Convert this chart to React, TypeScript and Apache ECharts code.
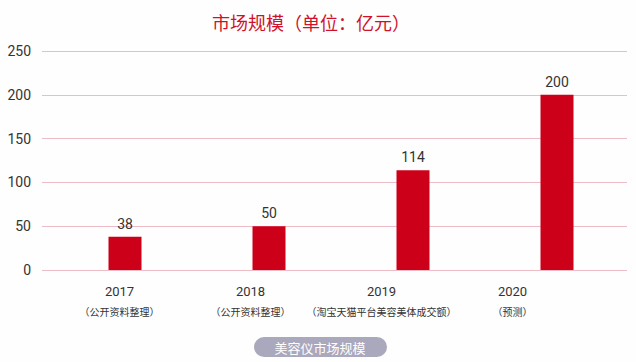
import React, { useEffect, useRef } from "react";
import * as echarts from "echarts";

const years = ["2017", "2018", "2019", "2020"];
const sources = ["（公开资料整理）", "（公开资料整理）", "（淘宝天猫平台美容美体成交额）", "（预测）"];
const marketSize = [38, 50, 114, 200];
const yTicks = { min: 0, max: 250, interval: 50 };
const titleText = "市场规模（单位：亿元）";
const footerText = "美容仪市场规模";

const CJK = '"Noto Sans CJK SC", "Noto Sans", sans-serif';
const NUM = 'Roboto, "Noto Sans", "Noto Sans CJK SC", sans-serif';

export default function App() {
  const ref = useRef<HTMLDivElement>(null);
  useEffect(() => {
    if (!ref.current) return;
    const chart = echarts.init(ref.current, null, { renderer: "svg" });
    const labelCats = years.map((y, i) => `{y|${y}}\n{s|${sources[i]}}`);
    chart.setOption({
      animation: false,
      backgroundColor: "#fefefe",
      title: {
        text: titleText,
        left: 306,
        textAlign: "center",
        top: 8,
        textStyle: { color: "#d0112b", fontSize: 18, fontWeight: "normal", fontFamily: CJK },
      },
      grid: [
        { left: 53, right: 7, top: 51, bottom: 92 },
        { left: 42, right: 9, top: 51, bottom: 92 },
        { left: 54, right: 58, top: 51, bottom: 92 },
      ],
      xAxis: [
        { gridIndex: 0, type: "category", data: years, axisLine: { show: false }, axisTick: { show: false }, axisLabel: { show: false } },
        { gridIndex: 1, type: "category", data: years, axisLine: { show: false }, axisTick: { show: false }, axisLabel: { show: false } },
        {
          gridIndex: 2,
          type: "category",
          data: labelCats,
          axisLine: { show: false },
          axisTick: { show: false },
          axisLabel: {
            margin: 12,
            interval: 0,
            rich: {
              y: { fontSize: 13, lineHeight: 18, color: "#333", fontFamily: NUM },
              s: { fontSize: 10, lineHeight: 22, color: "#333", fontFamily: CJK },
            },
          },
        },
      ],
      yAxis: [
        { gridIndex: 0, type: "value", ...yTicks, show: false, splitLine: { show: false } },
        {
          gridIndex: 1,
          type: "value",
          ...yTicks,
          axisLine: { show: false },
          axisTick: { show: false },
          axisLabel: { margin: 11, fontSize: 14, color: "#333", fontFamily: NUM },
          splitLine: { lineStyle: { color: "#ecbcc7", width: 1 } },
        },
        { gridIndex: 2, type: "value", ...yTicks, show: false, splitLine: { show: false } },
      ],
      series: [
        {
          type: "bar",
          xAxisIndex: 0,
          yAxisIndex: 0,
          data: marketSize,
          barWidth: 33,
          itemStyle: { color: "#cc0018" },
          label: {
            show: true,
            position: "top",
            distance: 6,
            fontSize: 14,
            color: "#333",
            fontFamily: NUM,
          },
        },
      ],
      graphic: [
        {
          type: "rect",
          shape: { x: 254, y: 337, width: 133, height: 20, r: 10 },
          style: { fill: "#aaa8bc" },
        },
        {
          type: "text",
          x: 320,
          y: 347,
          style: {
            text: footerText,
            fill: "#ffffff",
            fontSize: 13,
            fontFamily: CJK,
            align: "center",
            verticalAlign: "middle",
          },
        },
      ],
    });
    return () => chart.dispose();
  }, []);
  return (
    <div
      ref={ref}
      style={{ position: "fixed", left: 0, top: 0, width: 636, height: 362 }}
    />
  );
}
